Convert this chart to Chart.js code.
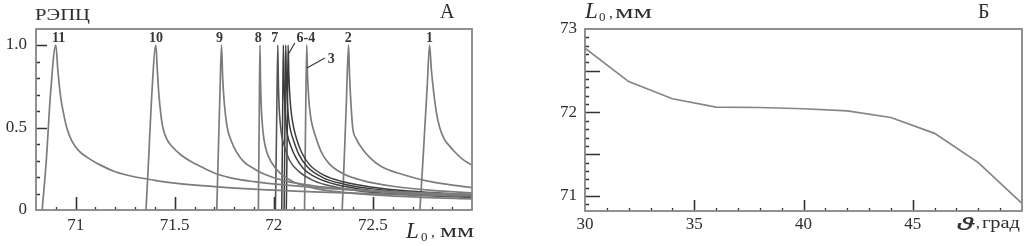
<!DOCTYPE html>
<html><head><meta charset="utf-8">
<script src="https://cdn.jsdelivr.net/npm/chart.js@4/dist/chart.umd.min.js"></script>
<style>
html,body{margin:0;padding:0;background:#fff;width:1032px;height:246px;overflow:hidden}
#ca{position:absolute;left:0;top:0}
#cb{position:absolute;left:510px;top:0}
</style></head><body>
<canvas id="ca" width="510" height="246"></canvas>
<canvas id="cb" width="522" height="246"></canvas>
<script>
// ---------- Panel A: РЭПЦ vs L0 (curves 1..11) ----------
const curve1  = [[72.737,0],[72.75,0.25],[72.762,0.5],[72.774,0.75],[72.786,1],[72.795,0.85],[72.808,0.7],[72.822,0.58],[72.837,0.5],[72.86,0.43],[72.885,0.39],[72.91,0.356],[72.95,0.31],[73.0,0.272]];
const curve2  = [[72.345,0],[72.355,0.3],[72.366,0.65],[72.377,1],[72.382,0.82],[72.389,0.65],[72.398,0.5],[72.417,0.43],[72.447,0.37],[72.487,0.315],[72.547,0.26],[72.654,0.214],[72.777,0.175],[72.877,0.155],[73.0,0.135]];
const curve3  = [[72.155,0],[72.16,0.5],[72.166,1],[72.17,0.82],[72.176,0.68],[72.185,0.57],[72.197,0.5],[72.215,0.43],[72.24,0.35],[72.28,0.28],[72.35,0.22],[72.45,0.178],[72.6,0.144],[72.8,0.119],[73.0,0.104]];
const curve4  = [[72.063,0],[72.068,0.5],[72.072,1],[72.076,0.82],[72.082,0.67],[72.09,0.57],[72.1,0.5],[72.115,0.43],[72.14,0.35],[72.18,0.275],[72.25,0.213],[72.35,0.171],[72.5,0.138],[72.65,0.118],[72.85,0.102],[73.0,0.093]];
const curve5  = [[72.052,0],[72.056,0.5],[72.06,1],[72.063,0.82],[72.068,0.66],[72.075,0.55],[72.085,0.48],[72.1,0.42],[72.125,0.34],[72.17,0.26],[72.25,0.195],[72.35,0.158],[72.5,0.128],[72.65,0.111],[72.85,0.096],[73.0,0.088]];
const curve6  = [[72.04,0],[72.044,0.5],[72.048,1],[72.051,0.8],[72.055,0.65],[72.062,0.52],[72.07,0.45],[72.085,0.39],[72.11,0.32],[72.15,0.25],[72.22,0.193],[72.32,0.153],[72.45,0.125],[72.6,0.108],[72.8,0.092],[73.0,0.082]];
const curve7  = [[72.008,0],[72.014,0.5],[72.02,1],[72.023,0.78],[72.027,0.62],[72.033,0.52],[72.04,0.45],[72.055,0.38],[72.08,0.3],[72.12,0.24],[72.2,0.178],[72.3,0.142],[72.45,0.113],[72.6,0.098],[72.8,0.085],[73.0,0.076]];
const curve8  = [[71.922,0],[71.926,0.5],[71.93,1],[71.933,0.78],[71.937,0.62],[71.942,0.52],[71.95,0.43],[71.965,0.35],[71.985,0.295],[72.03,0.225],[72.1,0.17],[72.2,0.133],[72.35,0.107],[72.5,0.092],[72.75,0.077],[73.0,0.068]];
const curve9  = [[71.712,0],[71.72,0.35],[71.728,0.7],[71.736,1],[71.742,0.8],[71.75,0.65],[71.765,0.5],[71.785,0.42],[71.81,0.355],[71.85,0.29],[71.9,0.25],[71.95,0.218],[72.05,0.178],[72.2,0.147],[72.35,0.128],[72.5,0.114],[72.75,0.099],[73.0,0.089]];
const curve10 = [[71.355,0],[71.368,0.3],[71.382,0.65],[71.405,1],[71.412,0.85],[71.42,0.7],[71.43,0.58],[71.44,0.5],[71.46,0.43],[71.49,0.38],[71.53,0.335],[71.58,0.295],[71.65,0.252],[71.72,0.215],[71.8,0.19],[71.9,0.172],[72.05,0.152],[72.25,0.133],[72.5,0.116],[72.75,0.104],[73.0,0.095]];
const curve11 = [[70.831,0],[70.852,0.3],[70.873,0.7],[70.9,1],[70.91,0.85],[70.925,0.68],[70.94,0.58],[70.955,0.5],[70.98,0.42],[71.015,0.36],[71.07,0.31],[71.12,0.275],[71.2,0.232],[71.29,0.203],[71.4,0.18],[71.5,0.163],[71.7,0.142],[71.9,0.126],[72.2,0.11],[72.6,0.095],[73.0,0.085]];

const xTicksA = [71, 71.5, 72, 72.5];
const yTicksA = [0, 0.5, 1.0];
const peakNames  = ['11', '10', '9', '8', '7', '6-4', '3', '2', '1'];
const peakNameX  = [70.914, 71.405, 71.726, 71.921, 72.005, 72.162, 72.29, 72.375, 72.786];
const peakNameY  = [1.018, 1.018, 1.018, 1.018, 1.018, 1.018, 0.89, 1.018, 1.018];

// ---------- Panel B: L0 vs theta ----------
const thetaB = [30, 32, 34, 36, 38, 40, 42, 44, 46, 48, 50];
const L0B    = [72.77, 72.37, 72.165, 72.065, 72.06, 72.045, 72.02, 71.94, 71.75, 71.40, 70.91];
const xTicksB = [30, 35, 40, 45];
const yTicksB = [71, 72, 73];

// ---------- helpers ----------
const SERIF = '"Liberation Serif", "Times New Roman", serif';
const INK = '#2e2e2e';

function rangeTicks(from, to, step, skip) {
  const out = [];
  const n = Math.round((to - from) / step);
  for (let i = 0; i <= n; i++) {
    const v = +(from + i * step).toFixed(4);
    if (!skip.some(s => Math.abs(s - v) < 1e-6)) out.push(v);
  }
  return out;
}

function ds(pts, color, w) {
  return {
    data: pts.map(p => ({ x: p[0], y: p[1] })),
    borderColor: color, borderWidth: w, pointRadius: 0, fill: false,
    cubicInterpolationMode: 'monotone'
  };
}

function drawText(ctx, t) {
  ctx.save();
  ctx.font = t.font;
  ctx.fillStyle = t.color || INK;
  ctx.textBaseline = 'alphabetic';
  ctx.textAlign = 'left';
  let w = ctx.measureText(t.text).width;
  let sx = t.w ? t.w / w : 1;
  let x = t.x;
  if (t.align === 'center') x = t.x - (w * sx) / 2;
  ctx.translate(x, t.y);
  ctx.scale(sx, 1);
  ctx.fillText(t.text, 0, 0);
  ctx.restore();
}

const decor = {
  id: 'decor',
  afterDatasetsDraw(chart, args, o) {
    const { ctx, chartArea: a } = chart;
    const xs = chart.scales.x, ys = chart.scales.y;
    ctx.save();
    ctx.strokeStyle = o.tickColor; ctx.lineWidth = 1.6;
    ctx.beginPath();
    o.xMajor.forEach(v => { const p = Math.round(xs.getPixelForValue(v)) + 0.5; ctx.moveTo(p, a.bottom); ctx.lineTo(p, a.bottom - o.xMajorLen); });
    o.yMajor.forEach(v => { const p = Math.round(ys.getPixelForValue(v)) + 0.5; ctx.moveTo(a.left, p); ctx.lineTo(a.left + o.yMajorLen, p); });
    ctx.stroke();
    ctx.lineWidth = 1.3;
    ctx.beginPath();
    o.xMinor.forEach(v => { const p = Math.round(xs.getPixelForValue(v)) + 0.5; ctx.moveTo(p, a.bottom); ctx.lineTo(p, a.bottom - o.xMinorLen); });
    o.yMinor.forEach(v => { const p = Math.round(ys.getPixelForValue(v)) + 0.5; ctx.moveTo(a.left, p); ctx.lineTo(a.left + o.yMinorLen, p); });
    ctx.stroke();
    ctx.strokeStyle = o.frameColor; ctx.lineWidth = 1.8;
    ctx.strokeRect(a.left, a.top, a.right - a.left, a.bottom - a.top);
    ctx.strokeStyle = '#3a3a3a'; ctx.lineWidth = 1.2;
    (o.leaders || []).forEach(l => {
      ctx.beginPath();
      ctx.moveTo(xs.getPixelForValue(l[0]), ys.getPixelForValue(l[1]));
      ctx.lineTo(xs.getPixelForValue(l[2]), ys.getPixelForValue(l[3]));
      ctx.stroke();
    });
    ctx.restore();
    (o.valueTexts || []).forEach(t => drawText(ctx, Object.assign({}, t, { x: xs.getPixelForValue(t.vx), y: ys.getPixelForValue(t.vy) })));
    (o.texts || []).forEach(t => drawText(ctx, t));
  }
};

Chart.register(decor);

// ---------- Chart A ----------
const grey = '#7c7c7c', dark = '#3c3c3c';
new Chart(document.getElementById('ca'), {
  type: 'line',
  data: {
    datasets: [
      ds(curve11, grey, 1.7), ds(curve10, grey, 1.7), ds(curve9, grey, 1.7), ds(curve8, grey, 1.7),
      ds(curve7, '#555', 1.6), ds(curve6, dark, 1.5), ds(curve5, dark, 1.5), ds(curve4, dark, 1.5),
      ds(curve3, grey, 1.7), ds(curve2, grey, 1.7), ds(curve1, grey, 1.7)
    ]
  },
  options: {
    responsive: false, animation: false, events: [],
    layout: { padding: { top: 29, right: 38, left: 0, bottom: 0 } },
    plugins: {
      legend: { display: false }, tooltip: { enabled: false },
      decor: {
        tickColor: '#333', frameColor: '#858585',
        xMajor: xTicksA, xMajorLen: 13, xMinor: rangeTicks(70.9, 72.9, 0.1, xTicksA), xMinorLen: 3,
        yMajor: [0.5, 1.0], yMajorLen: 11, yMinor: rangeTicks(0.1, 1.0, 0.1, yTicksA), yMinorLen: 4,
        leaders: [[72.106, 1.012, 72.071, 0.939], [72.258, 0.921, 72.167, 0.861]],
        valueTexts: peakNames.map((n, i) => ({ text: n, vx: peakNameX[i], vy: peakNameY[i], align: 'center', font: 'bold 14px ' + SERIF, color: '#383838' })),
        texts: [
          { text: 'РЭПЦ', x: 35, y: 20, font: '17px ' + SERIF, w: 55 },
          { text: 'А', x: 440, y: 18, font: '20px ' + SERIF },
          { text: 'L', x: 406, y: 238, font: 'italic 23px ' + SERIF },
          { text: '0', x: 421, y: 241, font: '13px ' + SERIF },
          { text: ',', x: 431, y: 237, font: '15px ' + SERIF },
          { text: 'мм', x: 440, y: 237, font: '19px ' + SERIF, w: 34 }
        ]
      }
    },
    scales: {
      x: {
        type: 'linear', min: 70.8, max: 73.0,
        grid: { display: false, drawTicks: false }, border: { display: false },
        ticks: { font: { family: SERIF, size: 17 }, color: INK, padding: 5, maxRotation: 0, autoSkip: false, callback: v => String(v) },
        afterBuildTicks: s => { s.ticks = xTicksA.map(v => ({ value: v })); },
        afterFit: s => { s.height = 36; }
      },
      y: {
        type: 'linear', min: 0, max: 1.097,
        grid: { display: false, drawTicks: false }, border: { display: false },
        ticks: { font: { family: SERIF, size: 17 }, color: INK, padding: 9, callback: v => (v === 0 ? '0' : v.toFixed(1)) },
        afterBuildTicks: s => { s.ticks = yTicksA.map(v => ({ value: v })); },
        afterFit: s => { s.width = 36; }
      }
    }
  }
});

// ---------- Chart B ----------
new Chart(document.getElementById('cb'), {
  type: 'line',
  data: {
    datasets: [{
      data: thetaB.map((t, i) => ({ x: t, y: L0B[i] })),
      borderColor: '#858585', borderWidth: 1.7, pointRadius: 0, fill: false, tension: 0
    }]
  },
  options: {
    responsive: false, animation: false, events: [],
    layout: { padding: { top: 29, right: 10, left: 0, bottom: 0 } },
    plugins: {
      legend: { display: false }, tooltip: { enabled: false },
      decor: {
        tickColor: '#333', frameColor: '#858585',
        xMajor: [35, 40, 45], xMajorLen: 11, xMinor: rangeTicks(31, 49, 1, xTicksB), xMinorLen: 3,
        yMajor: [71, 71.5, 72, 72.5], yMajorLen: 15, yMinor: rangeTicks(70.9, 72.9, 0.1, [71, 71.5, 72, 72.5]), yMinorLen: 4,
        texts: [
          { text: 'L', x: 75, y: 18, font: 'italic 23px ' + SERIF },
          { text: '0', x: 89, y: 21, font: '13px ' + SERIF },
          { text: ',', x: 99, y: 18, font: '15px ' + SERIF },
          { text: 'мм', x: 105, y: 18, font: '19px ' + SERIF, w: 37 },
          { text: 'Б', x: 468, y: 18, font: '20px ' + SERIF },
          { text: 'ϑ', x: 446, y: 230, font: 'italic 19px Roboto', w: 19, color: '#333' },
          { text: ',', x: 466, y: 228, font: '15px ' + SERIF },
          { text: 'град', x: 472, y: 228, font: '17px ' + SERIF, w: 38 }
        ]
      }
    },
    scales: {
      x: {
        type: 'linear', min: 30, max: 50,
        grid: { display: false, drawTicks: false }, border: { display: false },
        ticks: { font: { family: SERIF, size: 17 }, color: INK, padding: 3, maxRotation: 0, autoSkip: false, callback: v => String(v) },
        afterBuildTicks: s => { s.ticks = xTicksB.map(v => ({ value: v })); },
        afterFit: s => { s.height = 35; }
      },
      y: {
        type: 'linear', min: 70.82, max: 73.0,
        grid: { display: false, drawTicks: false }, border: { display: false },
        ticks: { font: { family: SERIF, size: 17 }, color: INK, padding: 8, callback: v => String(v) },
        afterBuildTicks: s => { s.ticks = yTicksB.map(v => ({ value: v })); },
        afterFit: s => { s.width = 75; }
      }
    }
  }
});
</script>
</body></html>
